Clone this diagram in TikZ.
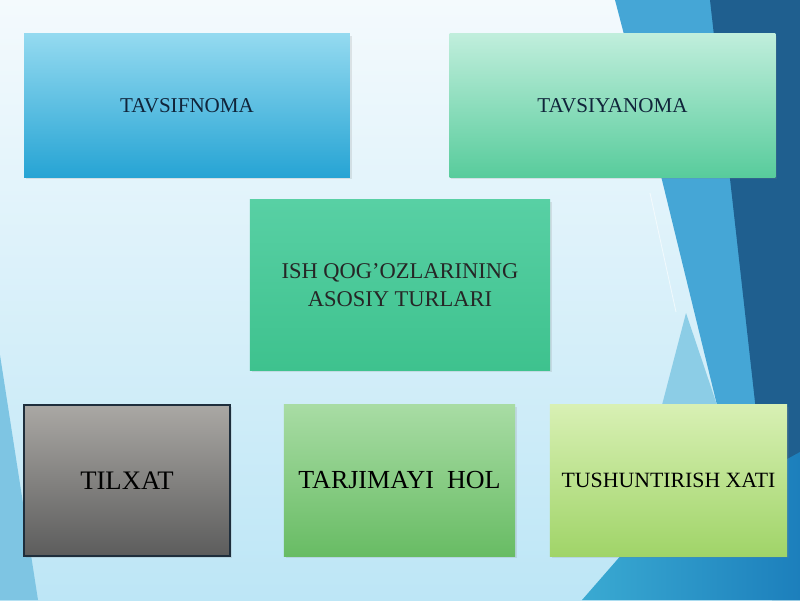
\documentclass[tikz,border=0pt]{standalone}
\usepackage{fontspec}
\setmainfont{Liberation Serif}
\usepackage{tikz}
\usetikzlibrary{positioning,shadows}
\definecolor{bgtop}{HTML}{F4FAFD}
\definecolor{bgbot}{HTML}{BDE6F6}
\definecolor{darkpanel}{HTML}{1F5F8F}
\definecolor{midband}{HTML}{45A6D6}
\definecolor{lightband}{HTML}{8CCDE6}
\definecolor{textnavy}{HTML}{10243A}
\tikzset{
    %Define standard box
    slide/.style={
           rectangle,
           inner sep=0pt,
           text centered,
           align=center,
           drop shadow={opacity=0.18, shadow xshift=1.2pt, shadow yshift=-1.2pt}},
    %Define style for the two top boxes
    tophead/.style={
           slide,
           minimum width=8.14cm,
           minimum height=3.575cm,
           font=\fontsize{15}{18}\selectfont,
           text=textnavy},
    %Define style for the middle box
    centerrect/.style={
           slide,
           minimum width=7.5cm,
           minimum height=4.25cm,
           font=\fontsize{16}{20}\selectfont,
           text=black!85},
    %Define style for the bottom boxes
    bottomrect/.style={
           slide,
           minimum height=3.775cm,
           text=black}
}

\begin{document}
\begin{tikzpicture}[x=0.025cm,y=-0.025cm]
\useasboundingbox (0,0) rectangle (800,600);
 %background
\shade[top color=bgtop,bottom color=bgbot] (0,0) rectangle (800,600);
\fill[midband] (615,0) -- (712,0) -- (757,405) -- (717,405) -- (662,180) -- cycle;
\fill[darkpanel] (710,0) -- (800,0) -- (800,600) -- (772,600) -- (757,420) -- cycle;
\fill[lightband] (662,405) -- (686,313) -- (717,405) -- cycle;
\draw[white,opacity=.6,line width=.6pt] (650,193) -- (676,312);
\shade[left color={rgb,255:red,58;green,170;blue,210},right color={rgb,255:red,28;green,127;blue,188}]
    (582,600) -- (630,545) -- (800,452) -- (800,600) -- cycle;
\fill[lightband!80!midband] (0,355) -- (38,600) -- (0,600) -- cycle;

 %nodes
\node[tophead, top color={rgb,255:red,148;green,218;blue,240}, bottom color={rgb,255:red,38;green,164;blue,212}]
    (tavsif) at (187,105.5) {TAVSIFNOMA};
\node[tophead, top color={rgb,255:red,192;green,238;blue,220}, bottom color={rgb,255:red,88;green,204;blue,156}]
    (tavsiya) at (612.5,105.5) {TAVSIYANOMA};
\node[centerrect, top color={rgb,255:red,88;green,208;blue,164}, bottom color={rgb,255:red,62;green,194;blue,142}]
    (asosiy) at (400,285) {ISH QOG’OZLARINING\\ASOSIY TURLARI};
\node[bottomrect, minimum width=5.15cm, draw={rgb,255:red,30;green,46;blue,60}, line width=1pt,
    top color={rgb,255:red,170;green,168;blue,164}, bottom color={rgb,255:red,92;green,92;blue,92},
    font=\fontsize{19}{22}\selectfont]
    (tilxat) at (127,480.5) {TILXAT};
\node[bottomrect, minimum width=5.775cm,
    top color={rgb,255:red,168;green,220;blue,164}, bottom color={rgb,255:red,104;green,188;blue,100},
    font=\fontsize{18.5}{22}\selectfont]
    (tarjima) at (399.5,480.5) {TARJIMAYI\ \ HOL};
\node[bottomrect, minimum width=5.925cm,
    top color={rgb,255:red,216;green,240;blue,180}, bottom color={rgb,255:red,160;green,212;blue,104},
    font=\fontsize{15.5}{18}\selectfont]
    (tushun) at (668.5,480.5) {TUSHUNTIRISH XATI};
\end{tikzpicture}
\end{document}
